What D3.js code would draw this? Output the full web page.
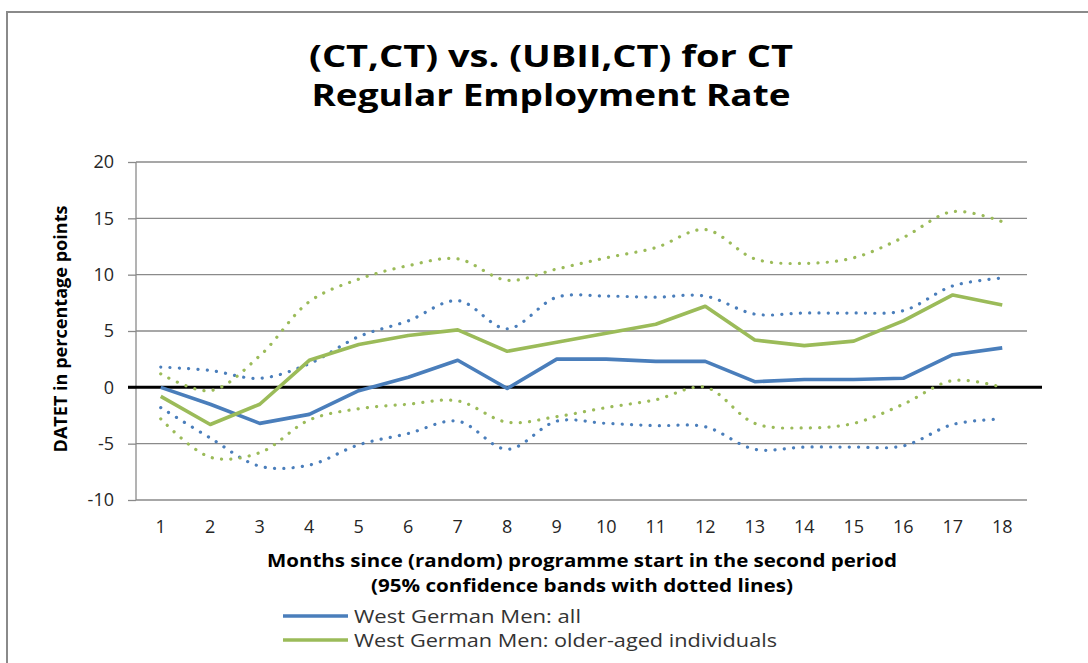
<!DOCTYPE html>
<html><head><meta charset="utf-8">
<script src="https://cdn.jsdelivr.net/npm/d3@7"></script>
<style>body{margin:0;background:#fff;}svg{display:block;}</style>
</head><body>
<svg id="c" width="1088" height="663"></svg>
<script>
const months = [1,2,3,4,5,6,7,8,9,10,11,12,13,14,15,16,17,18];
const allMain  = [0,-1.5,-3.2,-2.4,-0.3,0.9,2.4,-0.1,2.5,2.5,2.3,2.3,0.5,0.7,0.7,0.8,2.9,3.5];
const allUpper = [1.8,1.5,0.8,2.1,4.5,5.9,7.7,5.2,8.0,8.1,8.0,8.1,6.5,6.6,6.6,6.8,9.0,9.7];
const allLower = [-1.8,-4.5,-7.0,-6.9,-5.1,-4.1,-3.0,-5.5,-3.0,-3.2,-3.4,-3.5,-5.5,-5.3,-5.3,-5.2,-3.3,-2.8];
const oldMain  = [-0.8,-3.3,-1.5,2.4,3.8,4.6,5.1,3.2,4.0,4.8,5.6,7.2,4.2,3.7,4.1,5.9,8.2,7.3];
const oldUpper = [1.2,-0.3,2.8,7.6,9.6,10.8,11.4,9.5,10.5,11.5,12.4,14.0,11.4,11.0,11.5,13.3,15.6,14.7];
const oldLower = [-2.8,-6.2,-5.8,-2.9,-1.9,-1.5,-1.2,-3.1,-2.6,-1.8,-1.1,0.0,-3.2,-3.6,-3.2,-1.5,0.6,0.0];
const yTicks = [-10,-5,0,5,10,15,20];
const titleLines = ["(CT,CT) vs. (UBII,CT) for CT","Regular Employment Rate"];
const xTitleLines = ["Months since (random) programme start in the second period","(95% confidence bands with dotted lines)"];
const yTitle = "DATET in percentage points";
const legendLabels = ["West German Men: all","West German Men: older-aged individuals"];

(function(){
const BLUE = "#4A7EBB", GREEN = "#9BBB59";
const FONT = "'Open Sans', Lato, sans-serif";
const svg = d3.select("#c");

// frame
svg.append("path").attr("d","M7,663 V12 H1088").attr("fill","none").attr("stroke","#8a8a8a").attr("stroke-width",2);

const pl = 136, pr = 1027, pt = 162, pb = 500;
const x = d3.scaleBand().domain(months).range([pl,pr]);
const xc = d => x(d) + x.bandwidth()/2;
const y = d3.scaleLinear().domain([-10,20]).range([pb,pt]);

// gridlines & y axis
const yAxis = d3.axisLeft(y).tickValues(yTicks).tickFormat(d => String(d)).tickSize(8).tickPadding(14);
const ga = svg.append("g").attr("transform",`translate(${pl},0)`).call(yAxis);
ga.select(".domain").attr("stroke","#8a8a8a").attr("stroke-width",1.3).attr("d",`M0,${pt}V${pb}`);
ga.selectAll(".tick line").attr("stroke","#8a8a8a").attr("stroke-width",1.3);
ga.selectAll(".tick text").attr("font-family",FONT).attr("font-size",18).attr("fill","#262626");
svg.append("g").selectAll("line").data(yTicks.filter(d=>d!==0)).join("line")
  .attr("x1",pl).attr("x2",pr).attr("y1",d=>y(d)).attr("y2",d=>y(d))
  .attr("stroke","#8a8a8a").attr("stroke-width",1.3);

// x labels
svg.append("g").selectAll("text").data(months).join("text")
  .attr("x",d=>xc(d)).attr("y",533).attr("text-anchor","middle")
  .attr("font-family",FONT).attr("font-size",18).attr("fill","#262626").text(d=>d);

// zero line
svg.append("line").attr("x1",128).attr("x2",1042).attr("y1",y(0)).attr("y2",y(0))
  .attr("stroke","#000").attr("stroke-width",3);

const straight = d3.line().x((d,i)=>xc(months[i])).y(d=>y(d));
const smooth = d3.line().x((d,i)=>xc(months[i])).y(d=>y(d)).curve(d3.curveCatmullRom.alpha(0.5));

function dotted(data,color){
  svg.append("path").attr("d",smooth(data)).attr("fill","none").attr("stroke",color)
    .attr("stroke-width",3.2).attr("stroke-linecap","round").attr("stroke-dasharray","0.1 9.2");
}
dotted(allUpper,BLUE); dotted(allLower,BLUE);
dotted(oldUpper,GREEN); dotted(oldLower,GREEN);
function solid(data,color){
  svg.append("path").attr("d",straight(data)).attr("fill","none").attr("stroke",color)
    .attr("stroke-width",3.6).attr("stroke-linejoin","round");
}
solid(allMain,BLUE); solid(oldMain,GREEN);

// titles
const titleW = [484, 479];
svg.append("g").selectAll("text").data(titleLines).join("text")
  .attr("x",551).attr("y",(d,i)=>[67,106][i]).attr("text-anchor","middle")
  .attr("font-family",FONT).attr("font-weight","bold").attr("font-size",31).attr("fill","#000")
  .attr("textLength",(d,i)=>titleW[i]).attr("lengthAdjust","spacingAndGlyphs").text(d=>d);
const xtW = [630, 422];
svg.append("g").selectAll("text").data(xTitleLines).join("text")
  .attr("x",582).attr("y",(d,i)=>[567,592][i]).attr("text-anchor","middle")
  .attr("font-family",FONT).attr("font-weight","bold").attr("font-size",17).attr("fill","#000")
  .attr("textLength",(d,i)=>xtW[i]).attr("lengthAdjust","spacingAndGlyphs").text(d=>d);
svg.append("text").attr("transform","translate(67,329) rotate(-90)").attr("text-anchor","middle")
  .attr("font-family",FONT).attr("font-weight","bold").attr("font-size",17).attr("fill","#000")
  .attr("textLength",247).attr("lengthAdjust","spacingAndGlyphs").text(yTitle);

// legend
const lgW = [227, 423];
const lg = svg.append("g").selectAll("g").data(legendLabels).join("g")
  .attr("transform",(d,i)=>`translate(0,${616+i*24})`);
lg.append("line").attr("x1",283).attr("x2",348).attr("y1",0).attr("y2",0)
  .attr("stroke",(d,i)=>[BLUE,GREEN][i]).attr("stroke-width",3.6);
lg.append("text").attr("x",354).attr("y",6.5).attr("font-family",FONT).attr("font-size",18).attr("fill","#333")
  .attr("textLength",(d,i)=>lgW[i]).attr("lengthAdjust","spacingAndGlyphs").text(d=>d);
})();
</script>
</body></html>
